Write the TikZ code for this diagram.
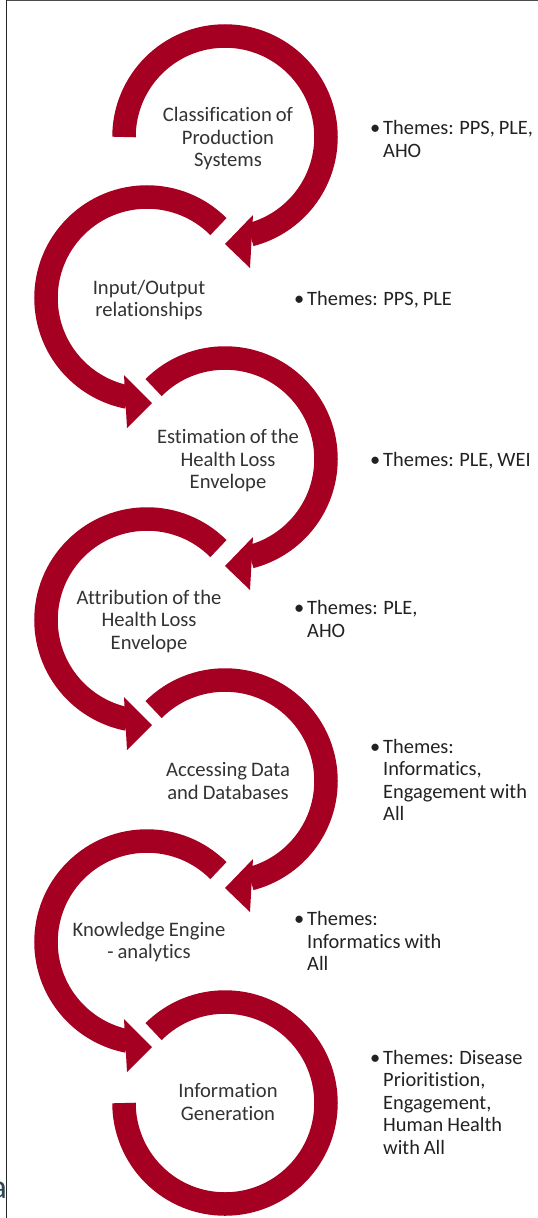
\documentclass[tikz,border=0pt]{standalone}
\usepackage{fontspec}
\setmainfont{Carlito}[Ligatures=NoCommon, WordSpace=0.85]
\definecolor{ringred}{HTML}{A50021}
\definecolor{labelgray}{HTML}{333333}
\definecolor{themeblack}{HTML}{222222}
\definecolor{slate}{HTML}{2F4858}
\begin{document}
\begin{tikzpicture}[x=1pt,y=1pt,
  ring/.style={draw=ringred, line width=23.5pt, line cap=butt},
  head/.style={fill=ringred},
  lbl/.style={align=center, text=labelgray, font=\fontsize{20.6}{22.5}\selectfont, inner sep=0},
  theme/.style={align=left, anchor=west, text=themeblack, font=\fontsize{20.4}{22.5}\selectfont, inner sep=0}]
\useasboundingbox (0,0) rectangle (538,-1218);
\fill[white] (0,0) rectangle (538,-1218);
% ring centres
\coordinate (c1) at (225,-137);
\coordinate (c2) at (147,-298);
\coordinate (c3) at (225,-459);
\coordinate (c4) at (147,-620);
\coordinate (c5) at (225,-781);
\coordinate (c6) at (147,-942);
\coordinate (c7) at (225,-1103);
% odd rings (clockwise)
\draw[ring] ([shift={(180:101)}]c1) arc[start angle=180, end angle=-75.5, radius=101];
\fill[head] ([shift={(0,-107)}]c1) -- ([shift={(28,-78)}]c1) -- ([shift={(25,-131)}]c1) -- cycle;
\foreach \c in {c3,c5}{
  \draw[ring] ([shift={(135:101)}]\c) arc[start angle=135, end angle=-75.5, radius=101];
  \fill[head] ([shift={(0,-107)}]\c) -- ([shift={(28,-78)}]\c) -- ([shift={(25,-131)}]\c) -- cycle;
}
\draw[ring] ([shift={(135:101)}]c7) arc[start angle=135, end angle=-180, radius=101];
% even rings (counter-clockwise)
\foreach \c in {c2,c4,c6}{
  \draw[ring] ([shift={(45:101)}]\c) arc[start angle=45, end angle=259, radius=101];
  \fill[head] ([shift={(5,-105)}]\c) -- ([shift={(-23,-77)}]\c) -- ([shift={(-20,-130)}]\c) -- cycle;
}
% ring labels
\node[lbl] (l1) at (228,-139) {Classification of\\Production\\Systems};
\node[lbl] (l2) at (149,-300) {Input/Output\\relationships};
\node[lbl] (l3) at (228,-461) {Estimation of the\\Health Loss\\Envelope};
\node[lbl] (l4) at (149,-621) {Attribution of the\\Health Loss\\Envelope};
\node[lbl] (l5) at (228,-781) {Accessing Data\\and Databases};
\node[lbl] (l6) at (149,-942) {Knowledge Engine\\- analytics};
\node[lbl] (l7) at (228,-1102) {Information\\Generation};
% themes
\node[theme] (t1) at (383,-139) {\llap{\textbullet\hspace{3pt}}Themes: PPS, PLE,\\AHO};
\node[theme] (t2) at (307,-300) {\llap{\textbullet\hspace{3pt}}Themes: PPS, PLE};
\node[theme] (t3) at (383,-461) {\llap{\textbullet\hspace{3pt}}Themes: PLE, WEI};
\node[theme] (t4) at (307,-619) {\llap{\textbullet\hspace{3pt}}Themes: PLE,\\AHO};
\node[theme] (t5) at (383,-780) {\llap{\textbullet\hspace{3pt}}Themes:\\Informatics,\\Engagement with\\All};
\node[theme] (t6) at (307,-941) {\llap{\textbullet\hspace{3pt}}Themes:\\Informatics with\\All};
\node[theme] (t7) at (383,-1102) {\llap{\textbullet\hspace{3pt}}Themes: Disease\\Prioritistion,\\Engagement,\\Human Health\\with All};
% stray letter and frame lines
\node[anchor=base east, text=slate, font=\fontsize{34}{34}\selectfont, inner sep=0] (a) at (7,-1198) {a};
\draw[line width=1pt, black!70] (6,-0.5) -- (538,-0.5);
\draw[line width=1.6pt, black!85] (6.5,0) -- (6.5,-1218);
\end{tikzpicture}
\end{document}
